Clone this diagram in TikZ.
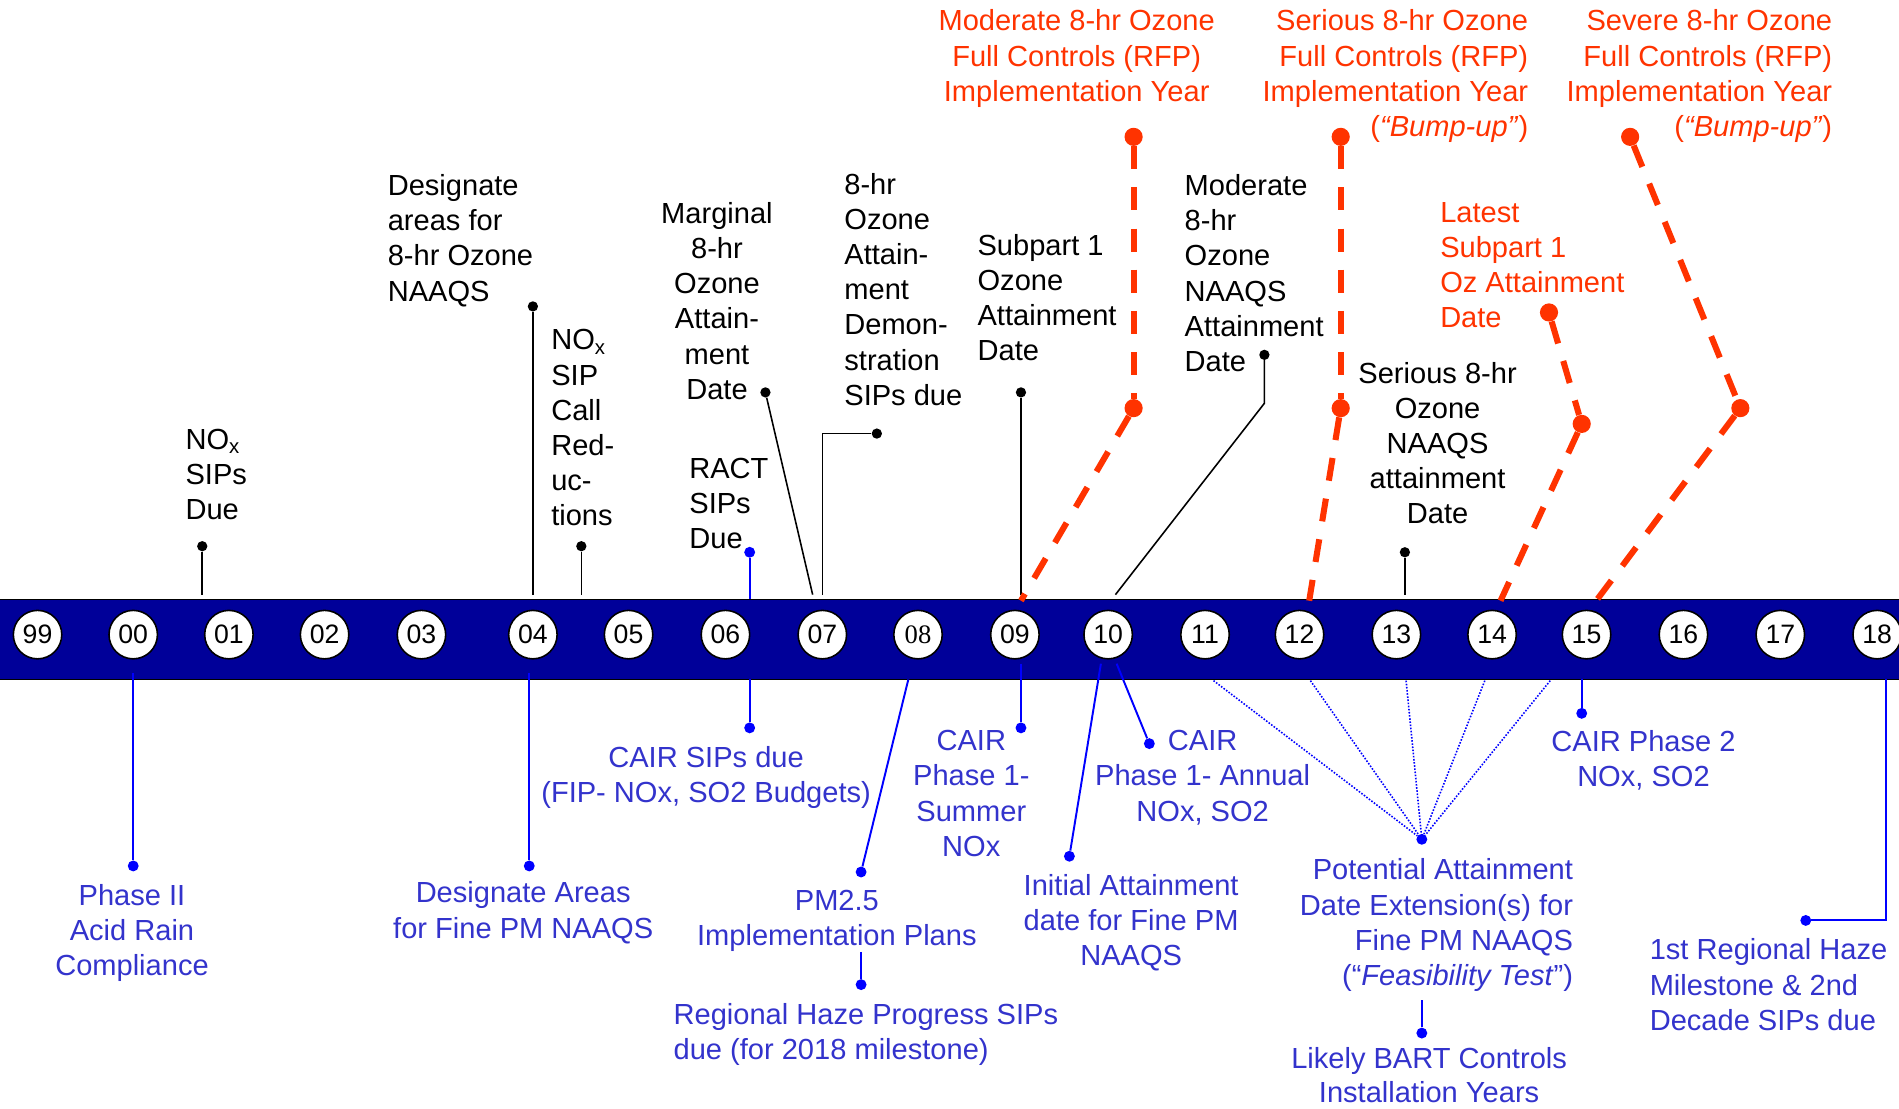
\documentclass[tikz,border=0pt]{standalone}
\usepackage{fontspec}
\setmainfont{Liberation Sans}
\newfontfamily\yrserif{Liberation Serif}
\usetikzlibrary{shapes, arrows.meta, calc, positioning}

\definecolor{ozred}{RGB}{255,51,0}
\definecolor{txtblue}{RGB}{51,51,204}
\definecolor{lnblue}{RGB}{0,0,255}
\definecolor{bandblue}{RGB}{0,0,153}

\tikzset{
  lbl/.style={inner sep=0pt, font=\fontsize{24}{29}\selectfont},
  redlbl/.style={lbl, text=ozred},
  bluelbl/.style={lbl, text=txtblue},
  yr/.style={circle, draw=black, fill=white, line width=1.3pt, minimum size=40pt,
             inner sep=0pt, font=\fontsize{22}{22}\selectfont},
  kdot/.style={circle, fill=black, minimum size=8.5pt, inner sep=0pt},
  bdot/.style={circle, fill=lnblue, minimum size=9pt, inner sep=0pt},
  rdot/.style={circle, fill=ozred, minimum size=15pt, inner sep=0pt},
  kline/.style={line width=1.3pt},
  bline/.style={draw=lnblue, line width=1.6pt},
  rline/.style={draw=ozred, line width=5pt, dash pattern=on 19pt off 15pt},
  bdots/.style={draw=lnblue, line width=1.3pt, dash pattern=on 1.3pt off 1.3pt},
}

\begin{document}
\begin{tikzpicture}[x=1pt, y=-1pt]
\useasboundingbox (0,0) rectangle (1568,915);

% Time band
\draw[fill=bandblue, line width=1.2pt] (-10,495) rectangle (1580,561);
\node[yr] (y99) at (31,524) {99};
\node[yr] (y00) at (110,524) {00};
\node[yr] (y01) at (189,524) {01};
\node[yr] (y02) at (268,524) {02};
\node[yr] (y03) at (348,524) {03};
\node[yr] (y04) at (440,524) {04};
\node[yr] (y05) at (519,524) {05};
\node[yr] (y06) at (599,524) {06};
\node[yr] (y07) at (679,524) {07};
\node[yr, font=\fontsize{22}{22}\yrserif] (y08) at (758,524) {08};
\node[yr] (y09) at (838,524) {09};
\node[yr] (y10) at (915,524) {10};
\node[yr] (y11) at (995,524) {11};
\node[yr] (y12) at (1073,524) {12};
\node[yr] (y13) at (1153,524) {13};
\node[yr] (y14) at (1232,524) {14};
\node[yr] (y15) at (1310,524) {15};
\node[yr] (y16) at (1390,524) {16};
\node[yr] (y17) at (1470,524) {17};
\node[yr] (y18) at (1550,524) {18};

% Upper labels
\node[lbl, align=left, anchor=north west] (noxdue) at (153,354) {NO\textsubscript{x}\\SIPs\\Due};
\node[lbl, align=left, anchor=north west] (desig) at (320,144) {Designate\\areas for\\8-hr Ozone\\NAAQS};
\node[lbl, align=left, anchor=north west] (noxcall) at (455,272) {NO\textsubscript{x}\\SIP\\Call\\Red-\\uc-\\tions};
\node[lbl, align=left, anchor=north west] (ract) at (569,378) {RACT\\SIPs\\Due};
\node[lbl, align=center, anchor=north] (marg) at (592,167) {Marginal\\8-hr\\Ozone\\Attain-\\ment\\Date};
\node[lbl, align=left, anchor=north west] (demo) at (697,143) {8-hr\\Ozone\\Attain-\\ment\\Demon-\\stration\\SIPs due};
\node[lbl, align=left, anchor=north west] (sub1) at (807,193) {Subpart 1\\Ozone\\Attainment\\Date};
\node[lbl, align=left, anchor=north west] (modatt) at (978,144) {Moderate\\8-hr\\Ozone\\NAAQS\\Attainment\\Date};
\node[lbl, align=center, anchor=north] (seratt) at (1187,299) {Serious 8-hr\\Ozone\\NAAQS\\attainment\\Date};

\node[kdot] (d1) at (167,451) {};
\node[kdot] (d2) at (440,253) {};
\node[kdot] (d3) at (480,451) {};
\node[bdot] (d4) at (619,456) {};
\node[kdot] (d5) at (632,324) {};
\node[kdot] (d6) at (724,358) {};
\node[kdot] (d7) at (843,324) {};
\node[kdot] (d8) at (1044,293) {};
\node[kdot] (d9) at (1160,456) {};
\coordinate (e1) at (167,491);
\coordinate (e2) at (440,491);
\coordinate (e3) at (480,491);
\coordinate (e4) at (619,495);
\coordinate (e5) at (671,491);
\coordinate (k6) at (679,358);
\coordinate (e6) at (679,491);
\coordinate (e7) at (843,491);
\coordinate (k8) at (1044,333);
\coordinate (e8) at (921,491);
\coordinate (e9) at (1160,491);
\draw[kline] (d1) -- (e1);
\draw[kline] (d2) -- (e2);
\draw[kline] (d3) -- (e3);
\draw[bline] (d4) -- (e4);
\draw[kline] (d5) -- (e5);
\draw[kline] (d6) -- (k6) -- (e6);
\draw[kline] (d7) -- (e7);
\draw[kline] (d8) -- (k8) -- (e8);
\draw[kline] (d9) -- (e9);

% Red ozone controls
\node[redlbl, align=center, anchor=north] (modrfp) at (889,8) {Moderate 8-hr Ozone\\Full Controls (RFP)\\Implementation Year};
\node[redlbl, align=right, anchor=north east] (serrfp) at (1262,8) {Serious 8-hr Ozone\\Full Controls (RFP)\\Implementation Year\\(\textit{“Bump-up”})};
\node[redlbl, align=right, anchor=north east] (sevrfp) at (1513,8) {Severe 8-hr Ozone\\Full Controls (RFP)\\Implementation Year\\(\textit{“Bump-up”})};
\node[redlbl, align=left, anchor=north west] (latest) at (1189,167) {Latest\\Subpart 1\\Oz Attainment\\Date};

\node[rdot] (r1a) at (936,113) {};
\node[rdot] (r1b) at (936,337) {};
\node[rdot] (r2a) at (1107,113) {};
\node[rdot] (r2b) at (1107,337) {};
\node[rdot] (r3a) at (1346,113) {};
\node[rdot] (r3b) at (1437,337) {};
\node[rdot] (r4a) at (1279,258) {};
\node[rdot] (r4b) at (1306,350) {};
\coordinate (re1) at (843,496);
\coordinate (re2) at (1081,496);
\coordinate (re3) at (1318,496);
\coordinate (re4) at (1239,496);
\draw[rline] (r1a) -- (r1b);
\draw[rline] (r1b) -- (re1);
\draw[rline] (r2a) -- (r2b);
\draw[rline] (r2b) -- (re2);
\draw[rline] (r3a) -- (r3b);
\draw[rline] (r3b) -- (re3);
\draw[rline] (r4a) -- (r4b);
\draw[rline] (r4b) -- (re4);

% Lower labels
\node[bluelbl, align=center, anchor=north] (ph2) at (109,730) {Phase II\\Acid Rain\\Compliance};
\node[bluelbl, align=center, anchor=north] (desfine) at (432,728) {Designate Areas\\for Fine PM NAAQS};
\node[bluelbl, align=center, anchor=north] (cairsip) at (583,616) {CAIR SIPs due\\(FIP- NOx, SO2 Budgets)};
\node[bluelbl, align=center, anchor=north] (pm25) at (691,735) {PM2.5\\Implementation Plans};
\node[bluelbl, align=left, anchor=north west] (haze) at (556,828) {Regional Haze Progress SIPs\\due (for 2018 milestone)};
\node[bluelbl, align=center, anchor=north] (cairsum) at (802,603) {CAIR\\Phase 1-\\Summer\\NOx};
\node[bluelbl, align=center, anchor=north] (initial) at (934,722) {Initial Attainment\\date for Fine PM\\NAAQS};
\node[bluelbl, align=center, anchor=north] (cairann) at (993,603) {CAIR\\Phase 1- Annual\\NOx, SO2};
\node[bluelbl, align=right, anchor=north east] (potent) at (1299,709) {Potential Attainment\\Date Extension(s) for\\Fine PM NAAQS\\(“\textit{Feasibility Test}”)};
\node[bluelbl, align=center, anchor=north, font=\fontsize{24}{28}\selectfont] (bart) at (1180,865) {Likely BART Controls\\Installation Years};
\node[bluelbl, align=center, anchor=north] (cair2) at (1357,603) {CAIR Phase 2\\NOx, SO2};
\node[bluelbl, align=left, anchor=north west] (haze2) at (1362,775) {1st Regional Haze\\Milestone \& 2nd\\Decade SIPs due};

\node[bdot] (b1) at (110,715) {};
\node[bdot] (b2) at (437,715) {};
\node[bdot] (b3) at (619,601) {};
\node[bdot] (b4) at (711,720) {};
\node[bdot] (b5) at (711,813) {};
\node[bdot] (b6) at (843,601) {};
\node[bdot] (b7) at (883,707) {};
\node[bdot] (b8) at (949,614) {};
\node[bdot] (b9) at (1174,693) {};
\node[bdot] (b10) at (1174,853) {};
\node[bdot] (b11) at (1306,589) {};
\node[bdot] (b12) at (1491,760) {};
\coordinate (s1) at (110,556);
\coordinate (s2) at (437,556);
\coordinate (s3) at (619,561);
\coordinate (s4) at (750,561);
\coordinate (s5) at (711,786);
\coordinate (s6) at (843,548);
\coordinate (s7) at (909,548);
\coordinate (s8) at (922,548);
\coordinate (s10) at (1174,826);
\coordinate (s11) at (1306,561);
\coordinate (s12) at (1557,561);
\coordinate (k12) at (1557,760);
\draw[bline] (s1) -- (b1);
\draw[bline] (s2) -- (b2);
\draw[bline] (s3) -- (b3);
\draw[bline] (s4) -- (b4);
\draw[bline] (s5) -- (b5);
\draw[bline] (s6) -- (b6);
\draw[bline] (s7) -- (b7);
\draw[bline] (s8) -- (b8);
\draw[bline] (s10) -- (b10);
\draw[bline] (s11) -- (b11);
\draw[bline] (s12) -- (k12) -- (b12);

% Dotted fan for extensions
\coordinate (p1) at (1002,562);
\coordinate (p2) at (1082,562);
\coordinate (p3) at (1161,562);
\coordinate (p4) at (1226,562);
\coordinate (p5) at (1280,562);
\draw[bdots] (p1) -- (b9);
\draw[bdots] (p2) -- (b9);
\draw[bdots] (p3) -- (b9);
\draw[bdots] (p4) -- (b9);
\draw[bdots] (p5) -- (b9);

\end{tikzpicture}
\end{document}
